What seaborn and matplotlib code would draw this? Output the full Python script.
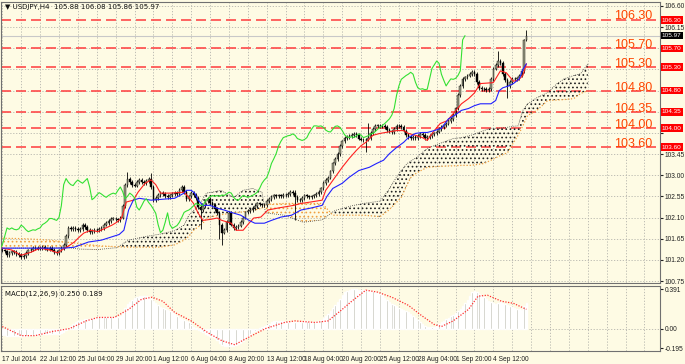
import matplotlib
matplotlib.use("Agg")
import matplotlib.pyplot as plt
import matplotlib.transforms as mtransforms
import numpy as np
import pandas as pd
import seaborn as sns

# USDJPY H4 closes, one per bar
closes = [
    101.40, 101.38, 101.30, 101.35, 101.38, 101.36, 101.33, 101.30, 101.26, 101.28, 101.35, 101.40, 101.42, 101.45, 101.46, 101.44,
    101.45, 101.48, 101.44, 101.42, 101.46, 101.42, 101.36, 101.34, 101.40, 101.45, 101.52, 101.70, 101.88, 101.85, 101.88, 101.85,
    101.84, 101.86, 101.94, 101.90, 101.84, 101.80, 101.82, 101.84, 101.83, 101.86, 101.88, 101.95, 101.98, 102.02, 102.08, 102.08,
    102.06, 102.04, 102.10, 102.35, 102.80, 102.93, 102.85, 102.80, 102.78, 102.85, 102.90, 102.86, 102.83, 102.88, 102.93, 102.75,
    102.48, 102.52, 102.58, 102.63, 102.60, 102.56, 102.53, 102.57, 102.60, 102.62, 102.60, 102.68, 102.75, 102.65, 102.50, 102.55,
    102.62, 102.58, 102.52, 102.32, 102.26, 102.35, 102.45, 102.50, 102.42, 102.36, 102.28, 102.19, 101.95, 101.78, 101.83, 102.00,
    102.20, 101.95, 101.87, 101.90, 101.93, 102.00, 102.10, 102.21, 102.24, 102.26, 102.30, 102.35, 102.40, 102.38, 102.36, 102.36,
    102.45, 102.50, 102.54, 102.57, 102.55, 102.57, 102.55, 102.58, 102.57, 102.60, 102.64, 102.62, 102.53, 102.48, 102.47, 102.52,
    102.57, 102.55, 102.53, 102.55, 102.57, 102.60, 102.64, 102.72, 102.83, 102.90, 102.95, 103.08, 103.25, 103.35, 103.46, 103.62,
    103.72, 103.80, 103.82, 103.84, 103.85, 103.88, 103.85, 103.78, 103.76, 103.74, 103.76, 103.80, 103.90, 103.98, 104.05, 104.05,
    104.04, 104.05, 104.02, 103.96, 103.93, 103.92, 103.98, 104.04, 104.05, 104.02, 103.95, 103.86, 103.82, 103.80, 103.82, 103.80,
    103.84, 103.88, 103.85, 103.80, 103.82, 103.84, 103.88, 103.89, 103.93, 103.98, 104.02, 104.06, 104.10, 104.15, 104.20, 104.28,
    104.42, 104.70, 104.90, 105.04, 105.08, 105.12, 105.15, 105.19, 105.15, 104.98, 104.86, 104.83, 104.84, 104.82, 104.83, 105.05,
    105.27, 105.35, 105.43, 105.38, 105.15, 105.02, 104.90, 104.98, 105.05, 105.04, 105.06, 105.12, 105.22, 105.88, 105.97,
]
first_open = 101.42
wick = 0.04
high_marks = {53: 103.06, 63: 103.04, 124: 102.68, 155: 104.12, 210: 105.65, 221: 105.90, 222: 106.08}
low_marks = {84: 101.85, 92: 101.65, 93: 101.52, 124: 102.05, 154: 103.50, 214: 104.65, 221: 105.18, 222: 105.86}

date_labels = ["17 Jul 2014", "22 Jul 12:00", "25 Jul 04:00", "29 Jul 20:00", "1 Aug 12:00",
               "6 Aug 04:00", "8 Aug 20:00", "13 Aug 12:00", "18 Aug 04:00", "20 Aug 20:00",
               "25 Aug 12:00", "28 Aug 04:00", "1 Sep 20:00", "4 Sep 12:00"]
price_ticks = [106.60, 106.15, 105.70, 105.25, 104.80, 104.35, 103.90, 103.45,
               103.00, 102.55, 102.10, 101.65, 101.20, 100.75]
hidden_ticks = [105.70, 105.25, 104.80, 104.35, 103.90]   # covered by the level boxes
levels = [106.30, 105.70, 105.30, 104.80, 104.35, 104.00, 103.60]
last_price = 105.97

# Ichimoku lines (bar, price vertices)
tenkan_bars = [0, 4, 8, 12, 16, 20, 23.5, 26.5, 28.5, 30.5, 32.5, 34.5, 37.5, 40.5, 43.5, 46.5, 48.5, 50.5,
               52.5, 55.5, 57.5, 60.5, 63, 65, 67, 71, 77, 79, 81, 83, 85, 88, 91, 93, 97, 99, 102, 104.5,
               106.5, 109.5, 112.5, 116.5, 123.5, 126.5, 130.5, 135.5, 137, 141, 144, 147, 150, 152, 154,
               157, 160, 167, 170, 172, 175, 178, 180, 183, 185.5, 188.5, 191, 194.5, 197.5, 200, 202.5,
               208, 211, 213.5, 216.5, 218.5, 220.5, 222]
tenkan_vals = [101.45, 101.41, 101.30, 101.36, 101.45, 101.41, 101.35, 101.45, 101.51, 101.58, 101.68, 101.77,
               101.83, 101.80, 101.87, 101.94, 102.00, 102.09, 102.43, 102.47, 102.64, 102.83, 102.90, 102.80,
               102.62, 102.62, 102.64, 102.53, 102.40, 102.19, 102.04, 102.06, 102.09, 102.04, 101.98, 101.83,
               101.83, 101.98, 102.09, 102.11, 102.26, 102.30, 102.36, 102.40, 102.43, 102.47, 102.68, 102.96,
               103.17, 103.36, 103.53, 103.63, 103.70, 103.85, 103.89, 103.95, 103.95, 103.89, 103.85, 103.80,
               103.74, 103.95, 104.10, 104.16, 104.31, 104.52, 104.63, 104.75, 104.95, 104.97, 105.22, 105.18,
               105.00, 105.02, 105.12, 105.37]
kijun_bars = [0, 26.5, 30.5, 36.5, 42, 47, 49.5, 51.5, 53.5, 55.5, 58, 63, 73, 77, 78, 80, 81.5, 83, 85, 88,
              91, 94, 97, 101, 104.5, 107, 111, 114, 118, 122.5, 126.5, 130.5, 135.5, 137.5, 140, 144, 147,
              151, 155.5, 158.5, 161.5, 164, 167, 170, 172, 175, 178, 180, 183, 186, 189, 191.5, 194.5,
              197.5, 200, 202.5, 207, 209, 210.5, 212, 214.5, 216.5, 219, 220.5, 222]
kijun_vals = [101.45, 101.45, 101.47, 101.58, 101.62, 101.70, 101.74, 101.83, 102.26, 102.47, 102.51, 102.47,
              102.51, 102.62, 102.68, 102.68, 102.62, 102.47, 102.36, 102.36, 102.30, 102.26, 102.21, 102.15,
              102.04, 101.98, 101.98, 102.04, 102.11, 102.15, 102.26, 102.30, 102.36, 102.55, 102.72, 102.83,
              102.96, 103.10, 103.17, 103.25, 103.32, 103.46, 103.59, 103.70, 103.80, 103.89, 103.91, 103.91,
              103.95, 104.00, 104.20, 104.27, 104.38, 104.42, 104.48, 104.52, 104.52, 104.59, 104.80, 104.86,
              104.90, 104.95, 105.05, 105.25, 105.37]
kumo_bars = [0, 10, 20, 26.5, 32.5, 40.5, 48.5, 53.5, 61, 67, 73, 77, 79, 81, 83.5, 85, 86.5, 89, 92.5, 98,
             102, 106, 110, 111.5, 119.5, 127.5, 135.5, 140, 141, 148, 153, 160, 163.5, 167.5, 169, 171.5,
             173, 175.5, 180, 185.5, 191, 194.5, 198.5, 204, 207, 211, 214, 216, 218.5, 220.5, 222.5, 226.5,
             231, 235, 238, 242, 245, 248]
span_a = [101.45, 101.45, 101.45, 101.47, 101.43, 101.42, 101.46, 101.62, 101.70, 101.75, 101.82, 101.94,
          102.15, 102.25, 102.36, 102.50, 102.62, 102.64, 102.68, 102.53, 102.68, 102.72, 102.64, 102.20,
          102.15, 102.00, 102.05, 102.22, 102.25, 102.35, 102.40, 102.45, 102.68, 103.00, 103.10, 103.25,
          103.30, 103.38, 103.57, 103.68, 103.78, 103.80, 103.85, 103.95, 104.00, 104.00, 104.02, 104.04,
          104.05, 104.38, 104.52, 104.65, 104.76, 104.95, 105.05, 105.12, 105.16, 105.37]
span_b = [101.66, 101.65, 101.62, 101.58, 101.55, 101.50, 101.48, 101.47, 101.47, 101.47, 101.52, 101.62,
          101.70, 101.83, 101.92, 101.98, 102.09, 102.12, 102.16, 102.20, 102.22, 102.25, 102.30, 102.38,
          102.40, 102.40, 102.40, 102.15, 102.15, 102.15, 102.15, 102.12, 102.25, 102.45, 102.53, 102.80,
          102.95, 103.05, 103.17, 103.19, 103.20, 103.21, 103.21, 103.25, 103.32, 103.42, 103.48, 103.65,
          103.85, 104.05, 104.27, 104.38, 104.59, 104.60, 104.61, 104.63, 104.74, 104.80]

# MACD(12,26,9)
macd_hist = [
    -0.06, -0.06, -0.07, -0.07, -0.07, -0.07, -0.07, -0.07, -0.07, -0.07, -0.07, -0.06, -0.06, -0.06, -0.06, -0.06,
    -0.05, -0.05, -0.05, -0.05, -0.05, -0.05, -0.05, -0.05, -0.05, -0.04, -0.03, -0.01, 0.01, 0.03, 0.05, 0.06,
    0.07, 0.08, 0.08, 0.09, 0.09, 0.09, 0.10, 0.10, 0.10, 0.11, 0.11, 0.11, 0.11, 0.11, 0.11, 0.11,
    0.11, 0.11, 0.12, 0.15, 0.20, 0.24, 0.26, 0.28, 0.30, 0.31, 0.32, 0.32, 0.32, 0.32, 0.31, 0.29,
    0.27, 0.25, 0.23, 0.21, 0.20, 0.19, 0.18, 0.17, 0.16, 0.14, 0.12, 0.10, 0.09, 0.08, 0.07, 0.06,
    0.04, 0.02, 0.01, -0.01, -0.02, -0.03, -0.05, -0.06, -0.07, -0.08, -0.09, -0.11, -0.14, -0.16, -0.17, -0.17,
    -0.17, -0.17, -0.17, -0.16, -0.15, -0.14, -0.12, -0.09, -0.07, -0.05, -0.03, -0.02, -0.01, 0.01, 0.02, 0.03,
    0.04, 0.05, 0.06, 0.07, 0.07, 0.07, 0.07, 0.07, 0.06, 0.06, 0.06, 0.06, 0.06, 0.06, 0.06, 0.06,
    0.07, 0.07, 0.06, 0.06, 0.06, 0.07, 0.07, 0.08, 0.10, 0.12, 0.14, 0.17, 0.20, 0.23, 0.26, 0.29,
    0.33, 0.36, 0.37, 0.38, 0.39, 0.39, 0.39, 0.38, 0.38, 0.38, 0.38, 0.38, 0.37, 0.37, 0.36, 0.35,
    0.34, 0.33, 0.30, 0.28, 0.26, 0.24, 0.23, 0.22, 0.20, 0.19, 0.18, 0.17, 0.16, 0.14, 0.12, 0.10,
    0.08, 0.06, 0.05, 0.03, 0.02, 0.02, 0.02, 0.02, 0.03, 0.05, 0.06, 0.07, 0.09, 0.10, 0.12, 0.13,
    0.15, 0.17, 0.19, 0.22, 0.25, 0.28, 0.32, 0.36, 0.37, 0.36, 0.34, 0.32, 0.31, 0.29, 0.27, 0.26,
    0.25, 0.24, 0.25, 0.26, 0.25, 0.24, 0.23, 0.22, 0.21, 0.20, 0.19, 0.19, 0.18, 0.22, 0.25,
]
signal_bars = [0, 8, 14, 21, 28.5, 35.5, 40.5, 47.5, 53.5, 59, 63.5, 68, 73, 80, 87, 93, 98.5, 104, 111.5,
               119.5, 124, 132.5, 138, 143.5, 148, 154, 159, 165, 172, 177.5, 183, 186, 191, 197.5, 201.5,
               205.5, 211.5, 216.5, 222]
signal_vals = [0.02, -0.07, -0.07, -0.03, 0.0, 0.076, 0.11, 0.11, 0.19, 0.29, 0.31, 0.27, 0.16, 0.076, -0.04,
               -0.12, -0.16, -0.09, 0.0, 0.06, 0.076, 0.06, 0.076, 0.18, 0.27, 0.38, 0.36, 0.31, 0.23, 0.13,
               0.04, 0.02, 0.076, 0.19, 0.32, 0.33, 0.27, 0.25, 0.19]

# ---- build candles ----
df = pd.DataFrame({"bar": np.arange(len(closes)), "close": closes})
df["open"] = df["close"].shift(1).fillna(first_open)
df["high"] = df[["open", "close"]].max(axis=1) + wick
df["low"] = df[["open", "close"]].min(axis=1) - wick
for k, v in high_marks.items():
    df.loc[k, "high"] = v
for k, v in low_marks.items():
    df.loc[k, "low"] = v

BG = "#fefbe4"
GRID = "#b4b4ac"
SMALL = "Liberation Sans"
sns.set_style("white")
plt.rcParams["font.family"] = ["DejaVu Sans"]
plt.rcParams["hatch.linewidth"] = 0.7

fig = plt.figure(figsize=(6.85, 3.64), dpi=100, facecolor=BG)
ax = fig.add_axes([0.002, 0.2225, 0.9615, 0.7720], facecolor=BG)
ax2 = fig.add_axes([0.002, 0.0357, 0.9615, 0.1786], facecolor=BG)

XMAX = 278.6
for a in (ax, ax2):
    a.set_xlim(-0.4, XMAX)
    a.set_xticks(np.arange(0, XMAX, 16))
    a.set_xticks(np.arange(8, XMAX, 16), minor=True)
    a.grid(True, which="both", axis="x", color=GRID, ls=(0, (1.5, 2)), lw=0.6)
    for s in a.spines.values():
        s.set_color("#707070")
        s.set_linewidth(0.8)
    a.tick_params(which="both", length=0)

ax.set_ylim(100.708, 106.685)
ax.set_yticks(price_ticks)
ax.set_yticklabels(["" if t in hidden_ticks else f"{t:.2f}" for t in price_ticks],
                   family=SMALL, fontsize=4.8)
ax.yaxis.tick_right()
ax.tick_params(axis="y", length=2, pad=1.5, direction="out", colors="#202020")
ax.grid(True, axis="y", color=GRID, ls=(0, (1.5, 2)), lw=0.6)
ax.set_xticklabels([])

# cloud
kb = np.array(kumo_bars)
sa = np.array(span_a)
sb = np.array(span_b)
ax.fill_between(kb, sa, sb, where=sa >= sb, interpolate=True, facecolor="none",
                edgecolor="#202020", hatch="....", linewidth=0, zorder=2)
ax.fill_between(kb, sa, sb, where=sa < sb, interpolate=True, facecolor="none",
                edgecolor="#f0a040", hatch="....", linewidth=0, zorder=2)
ax.plot(kb, sa, color="#404040", ls=(0, (1, 1.5)), lw=0.6, zorder=2)
ax.plot(kb, sb, color="#f0a040", ls=(0, (1, 1.5)), lw=0.9, zorder=2)

# support / resistance levels
for lvl in levels:
    ax.axhline(lvl, color="#ff4a4a", ls=(0, (6, 3)), lw=1.2, zorder=1.5)
    ax.text(275.3, lvl + (0.03 if lvl == 106.30 else 0.0), f"{lvl:.2f}", color="#ff4500",
            fontsize=9, family="Liberation Sans", ha="right", va="baseline", zorder=7)
ax.axhline(last_price, color="#c8c8c8", lw=0.8, zorder=1.5)

# candles
up = df["close"] >= df["open"]
ax.vlines(df["bar"], df["low"], df["high"], color="black", lw=0.6, zorder=4)
body_lo = df[["open", "close"]].min(axis=1)
body_h = (df["close"] - df["open"]).abs().clip(lower=0.012)
ax.bar(df["bar"], body_h, bottom=body_lo, width=0.7,
       color=np.where(up, "#9ea088", "#000000"), edgecolor="black", linewidth=0.3, zorder=5)

# Ichimoku lines
sns.lineplot(x=tenkan_bars, y=tenkan_vals, ax=ax, color="#ff2020", linewidth=0.8, zorder=6)
sns.lineplot(x=kijun_bars, y=kijun_vals, ax=ax, color="#2020ff", linewidth=0.8, zorder=6)
sns.lineplot(x=df["bar"] - 26, y=df["close"], ax=ax, color="#33e033", linewidth=0.8, zorder=6)
ax.set_xlabel("")
ax.set_ylabel("")

# right-axis price boxes
trans = mtransforms.blended_transform_factory(ax.transAxes, ax.transData)
for lvl in levels:
    ax.text(1.003, lvl, f"{lvl:.2f}", transform=trans, fontsize=4.6, family=SMALL, color="white",
            va="center", ha="left", zorder=10,
            bbox=dict(boxstyle="square,pad=0.2", fc="#ff0000", ec="none"))
ax.text(1.003, last_price, f"{last_price:.2f}", transform=trans, fontsize=4.6, family=SMALL,
        color="white", va="center", ha="left", zorder=10,
        bbox=dict(boxstyle="square,pad=0.2", fc="#000000", ec="none"))

ax.text(0.006, 0.993, "\u25bc USDJPY,H4  105.88 106.08 105.86 105.97", transform=ax.transAxes,
        fontsize=5, va="top", ha="left", color="#101010")

# MACD panel
ax2.set_ylim(-0.222, 0.421)
ax2.bar(df["bar"], macd_hist, width=0.6, color="#c0c0b4", zorder=2)
sns.lineplot(x=signal_bars, y=signal_vals, ax=ax2, color="#ff3030", linewidth=0.9,
             linestyle=(0, (1, 1.2)), zorder=3)
ax2.axhline(0, color=GRID, ls=(0, (1.5, 2)), lw=0.6, zorder=1)
ax2.set_yticks([0.391, 0.0, -0.195])
ax2.set_yticklabels(["0.391", "0.00", "-0.195"], family=SMALL, fontsize=4.8)
ax2.yaxis.tick_right()
ax2.tick_params(axis="y", length=2, pad=1.5, colors="#202020")
ax2.set_xticklabels(date_labels + [""] * (len(ax2.get_xticks()) - len(date_labels)),
                    family=SMALL, fontsize=4.8)
ax2.tick_params(axis="x", length=2, pad=1.5, direction="out", colors="#202020")
for lbl in ax2.get_xticklabels():
    lbl.set_horizontalalignment("left")
ax2.set_xlabel("")
ax2.set_ylabel("")
ax2.text(0.006, 0.93, "MACD(12,26,9) 0.250 0.189", transform=ax2.transAxes,
         fontsize=5, va="top", ha="left", color="#101010")

fig.savefig("out.png", dpi=100, facecolor=BG)
